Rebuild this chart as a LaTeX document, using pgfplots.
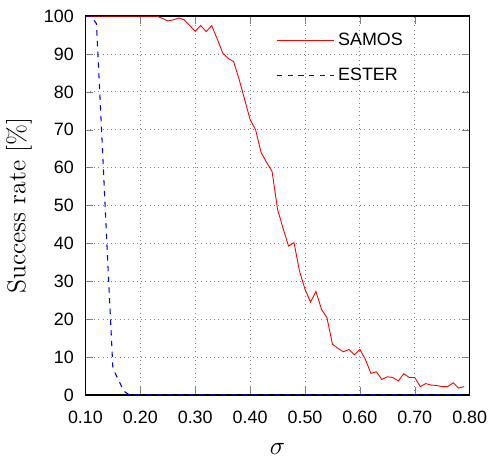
\documentclass[border=0pt]{standalone}
\usepackage{pgfplots}
\pgfplotsset{compat=1.18}
\usepackage{fontspec}
\newfontfamily\hv{Liberation Sans}
\begin{document}
\begin{tikzpicture}
\begin{axis}[
  scale only axis,
  width=215pt, height=212pt,
  xmin=0.1, xmax=0.8, ymin=0, ymax=100,
  xtick={0.1,0.2,0.3,0.4,0.5,0.6,0.7,0.8},
  ytick={0,10,20,30,40,50,60,70,80,90,100},
  /pgf/number format/assume math mode=true,
  xticklabel style={font=\hv, yshift=-5.5pt, /pgf/number format/fixed, /pgf/number format/fixed zerofill, /pgf/number format/precision=2},
  yticklabel style={font=\hv, xshift=-3pt},
  axis line style={line width=0.8pt},
  grid=major,
  major grid style={dotted, gray, line width=0.5pt},
  xlabel={\Large $\sigma$},
  xlabel style={yshift=-4pt},
  ylabel={\Large Success rate [\%]},
  every axis legend/.style={cells={anchor=west}, inner xsep=3pt, inner ysep=2pt, nodes={inner sep=2pt, text depth=0.15em}, shape=rectangle, anchor=north east, at={(0.85,0.975)}, font=\hv, row sep=7pt},
]
\addplot[draw=red, line width=0.5pt,
  legend image code/.code={\draw[red, solid, line width=0.7pt] (0pt,0pt) -- (32pt,0pt);}] coordinates {
(0.10,100) (0.11,100) (0.12,100) (0.13,100) (0.14,100) (0.15,100) (0.16,100) (0.17,100) (0.18,100) (0.19,100) (0.20,100) (0.21,100) (0.22,100) (0.23,100)
(0.24,99.4) (0.25,98.7) (0.26,99.0) (0.27,99.5) (0.28,99.0) (0.29,97.5) (0.30,96.0) (0.31,97.5) (0.32,95.9) (0.33,97.5) (0.34,94.0) (0.35,90.3) (0.36,88.8) (0.37,88.0) (0.38,83.3) (0.39,78.0)
(0.40,72.7) (0.41,70.0) (0.42,64.0) (0.43,61.4) (0.44,59.0) (0.45,49.0) (0.46,44.0) (0.47,39.3) (0.48,40.2) (0.49,32.7)
(0.50,27.9) (0.51,24.5) (0.52,27.3) (0.53,22.6) (0.54,20.4) (0.55,13.4) (0.56,12.3) (0.57,11.4) (0.58,12.0) (0.59,10.6)
(0.60,12.0) (0.61,9.4) (0.62,5.7) (0.63,6.1) (0.64,4.1) (0.65,4.8) (0.66,4.6) (0.67,3.7) (0.68,5.6) (0.69,4.6)
(0.70,4.6) (0.71,2.2) (0.72,3.0) (0.73,2.6) (0.74,2.5) (0.75,2.2) (0.76,2.2) (0.77,3.2) (0.78,1.8) (0.79,2.2)
};
\addlegendentry{SAMOS}
\addplot[draw=blue, dashed, line width=0.6pt,
  legend image code/.code={\draw[blue, dashed, line width=0.7pt] (0pt,0pt) -- (32pt,0pt);}] coordinates {
(0.10,100) (0.11,100) (0.12,98) (0.13,68) (0.14,37) (0.15,7) (0.16,4) (0.17,1) (0.18,0)
(0.19,0) (0.20,0) (0.30,0) (0.40,0) (0.50,0) (0.60,0) (0.70,0) (0.79,0)
};
\addlegendentry{ESTER}
\end{axis}
\path (current axis.north) ++(0,9pt) coordinate (padtop);
\end{tikzpicture}
\end{document}
